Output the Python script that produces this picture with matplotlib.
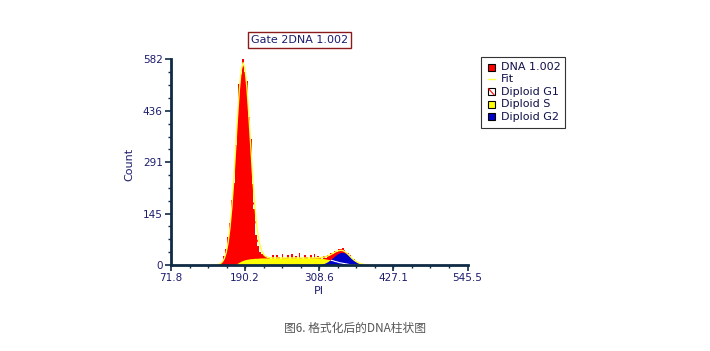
import numpy as np
import matplotlib
matplotlib.use("Agg")
import matplotlib.pyplot as plt
from matplotlib.patches import Rectangle
from matplotlib.lines import Line2D


# Channel grid of the PI histogram (first channel and channel width)
first_channel = 142
channel_width = 3

# DNA 1.002 histogram counts, one per channel
hist_counts = [0, 1, 2, 5, 8, 25, 45, 80, 118, 185, 231, 340, 405, 512, 538, 582,
               548, 521, 418, 356, 230, 160, 85, 55, 38, 30, 27, 26, 19, 24, 18, 27,
               18, 29, 22, 15, 31, 21, 19, 27, 16, 30, 20, 25, 17, 33, 21, 18,
               28, 22, 16, 27, 20, 31,
               19, 26, 22, 18, 25, 21, 29, 26, 35, 31, 41, 37, 46, 44, 48, 42,
               38, 33, 27, 17, 16, 12, 6, 5, 4, 1, 1, 0, 0, 0, 0, 0]

# Fitted components on the same channels
diploid_g1 = [0.3, 0.7, 1.8, 4.2, 9.1, 18.6, 35.6, 63.5, 105.7, 164.5, 239, 325, 412, 489, 541, 560,
              541, 489, 412, 325, 239, 164.5, 105.7, 63.5, 35.6, 18.6, 9.1, 4.2, 1.8, 0.7, 0.3, 0,
              0, 0, 0, 0, 0, 0, 0, 0, 0, 0, 0, 0, 0, 0, 0, 0,
              0, 0, 0, 0, 0, 0,
              0, 0, 0, 0, 0, 0, 0, 0, 0, 0, 0, 0, 0, 0, 0, 0,
              0, 0, 0, 0, 0, 0, 0, 0, 0, 0, 0, 0, 0, 0, 0, 0]
diploid_s = [0, 0, 0, 0, 0, 0, 0, 0, 0, 0, 0, 2, 5, 8, 11, 13,
             15, 16, 17, 18, 18, 19, 19, 19, 20, 20, 20, 20, 20, 20, 20, 20,
             20, 20, 20, 20, 20, 20, 20, 20, 20, 20, 20, 20, 20, 20, 20, 20,
             20, 20, 20, 20, 20, 20,
             20, 20, 19, 19, 18, 17, 16, 15, 13, 12, 10, 9, 7, 6, 5, 4,
             3, 2, 1, 0, 0, 0, 0, 0, 0, 0, 0, 0, 0, 0, 0, 0]
diploid_g2 = [0, 0, 0, 0, 0, 0, 0, 0, 0, 0, 0, 0, 0, 0, 0, 0,
              0, 0, 0, 0, 0, 0, 0, 0, 0, 0, 0, 0, 0, 0, 0, 0,
              0, 0, 0, 0, 0, 0, 0, 0, 0, 0, 0, 0, 0, 0, 0, 0,
              0, 0, 0, 0, 0, 0,
              0.5, 0.9, 1.6, 2.6, 4.2, 6.4, 9.3, 13.0, 17.2, 21.8, 26.4, 30.6, 33.8, 35.6, 35.9, 34.6,
              31.8, 27.9, 23.4, 18.7, 14.3, 10.5, 7.3, 4.9, 3.1, 1.9, 1.1, 0.6, 0.3, 0, 0, 0]

x_ticks = [71.8, 190.2, 308.6, 427.1, 545.5]
y_ticks = [0, 145.5, 291, 436.5, 582]
y_tick_labels = ["0", "145", "291", "436", "582"]

title_text = "Gate 2DNA 1.002"
legend_labels = ["DNA 1.002", "Fit", "Diploid G1", "Diploid S", "Diploid G2"]
caption = "图6. 格式化后的DNA柱状图"

navy = "#1c1c6e"
spine_col = "#0f2a44"

channels = first_channel + channel_width * np.arange(len(hist_counts))
hist_counts = np.array(hist_counts, dtype=float)
diploid_g1 = np.array(diploid_g1)
diploid_s = np.array(diploid_s, dtype=float)
diploid_g2 = np.array(diploid_g2)
fit_total = diploid_g1 + diploid_s + diploid_g2

fig = plt.figure(figsize=(7.1, 3.51), dpi=100)
W, H = 710, 351
ax = fig.add_axes([171 / W, 1 - 265 / H, (467.5 - 171) / W, (265 - 59.5) / H])

# histogram, then fitted components on top
ax.fill_between(channels, hist_counts, step="mid", color="#ff0000", linewidth=0)
ax.fill_between(channels, diploid_g1, facecolor="none", edgecolor="#ff0000",
                hatch="\\\\", linewidth=0)
ax.fill_between(channels, diploid_s, color="#ffff00", linewidth=0)
ax.fill_between(channels, diploid_g2, color="#0000c8", linewidth=0)
s_hidden = np.where(diploid_g2 > diploid_s, diploid_s, np.nan)
ax.plot(channels, s_hidden, color="white", linewidth=0.8)
ax.plot(channels, fit_total, color="#ffff40", linewidth=1.0)

ax.set_xlim(x_ticks[0], x_ticks[-1])
ax.set_ylim(0, y_ticks[-1])
ax.set_xticks(x_ticks)
ax.set_xticklabels([f"{v:.1f}" for v in x_ticks])
ax.set_yticks(y_ticks)
ax.set_yticklabels(y_tick_labels)
ax.set_xticks(np.linspace(x_ticks[0], x_ticks[-1], 17), minor=True)
ax.set_yticks(np.linspace(0, y_ticks[-1], 17), minor=True)

for side in ["top", "right"]:
    ax.spines[side].set_visible(False)
for side in ["left", "bottom"]:
    ax.spines[side].set_color(spine_col)
    ax.spines[side].set_linewidth(2)
ax.tick_params(which="major", length=4, width=1.2, color=spine_col,
               labelsize=7.5, labelcolor=navy, pad=2)
ax.tick_params(which="minor", length=2.5, width=1, color=spine_col)

ax.set_xlabel("PI", fontsize=8, color=navy, labelpad=2)
ax.set_ylabel("Count", fontsize=8, color=navy)
ax.yaxis.set_label_coords(-0.125, 0.487)

fig.text(299.5 / W, 1 - 40 / H, title_text, fontsize=8, color=navy,
         ha="center", va="center",
         bbox=dict(boxstyle="square,pad=0.25", facecolor="white",
                   edgecolor="#8b1a1a", linewidth=1))

# legend box drawn by hand to get the hatched G1 swatch
fig.patches.append(Rectangle((480.5 / W, 1 - 127.5 / H), 84.5 / W, 70.5 / H,
                             transform=fig.transFigure, facecolor="white",
                             edgecolor="#333333", linewidth=0.8))
row_y = [67, 79.3, 91.7, 104.1, 116.5]
swatch_faces = ["#ff0000", None, "white", "#ffff00", "#0000c8"]
for label, py, face in zip(legend_labels, row_y, swatch_faces):
    yc = 1 - py / H
    if face is None:
        fig.add_artist(Line2D([488 / W, 495 / W], [yc, yc], color="#ffff50",
                              linewidth=1, transform=fig.transFigure))
    else:
        fig.patches.append(Rectangle((487.5 / W, yc - 3.5 / H), 7 / W, 7 / H,
                                     transform=fig.transFigure, facecolor=face,
                                     edgecolor="black", linewidth=0.8))
        if label == "Diploid G1":
            fig.add_artist(Line2D([488.5 / W, 494 / W], [yc + 3 / H, yc - 3 / H],
                                  color="#ff0000", linewidth=0.8,
                                  transform=fig.transFigure))
    fig.text(501 / W, yc, label, fontsize=8, color="#10104a",
             ha="left", va="center")

fig.text(355 / W, 1 - 328 / H, caption, fontsize=8.5, color="#555555",
         ha="center", va="center", family=["Noto Sans CJK SC", "DejaVu Sans"])

fig.savefig("out.png", dpi=100)
